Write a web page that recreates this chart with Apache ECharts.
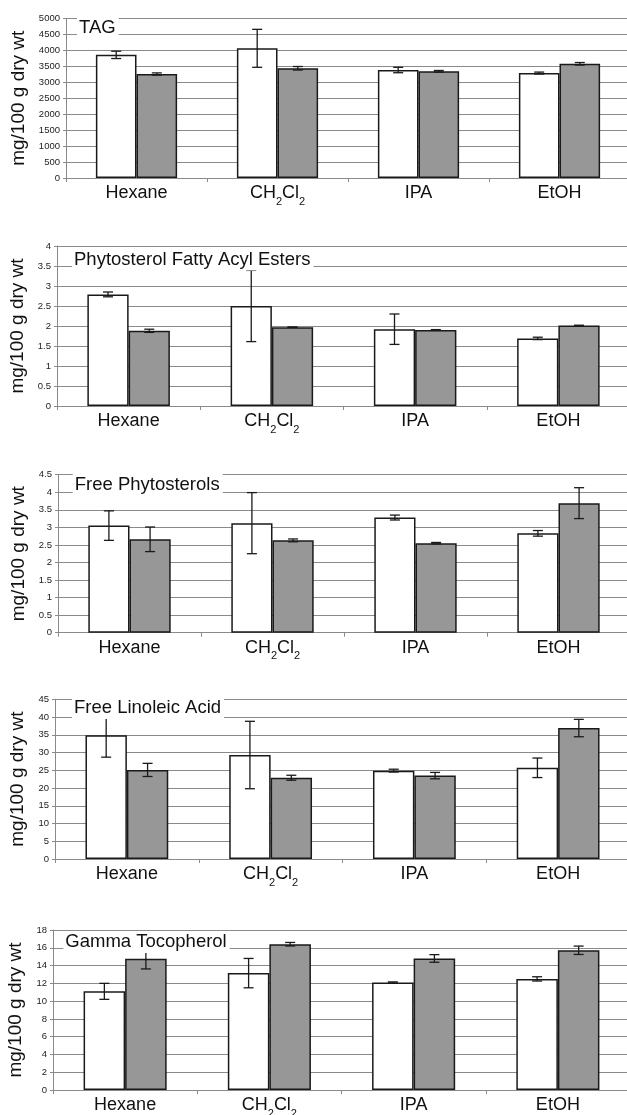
<!DOCTYPE html>
<html>
<head>
<meta charset="utf-8">
<script src="https://cdn.jsdelivr.net/npm/echarts@6/dist/echarts.min.js"></script>
<style>
html,body{margin:0;padding:0;background:#fff;}
#c{width:627px;height:1115px;}
</style>
</head>
<body>
<div id="c"></div>
<script>
// ---- data ----
const categories = ['Hexane', 'CH2Cl2', 'IPA', 'EtOH'];
const panelTitles = ['TAG', 'Phytosterol Fatty Acyl Esters', 'Free Phytosterols', 'Free Linoleic Acid', 'Gamma Tocopherol'];
const yAxisName = 'mg/100 g dry wt';
const yMax = [5000, 4, 4.5, 45, 18];
const yInterval = [500, 0.5, 0.5, 5, 2];

const tagWhite = [3860, 4065, 3385, 3290];
const tagWhiteErr = [115, 595, 85, 30];
const tagGray = [3260, 3440, 3345, 3580];
const tagGrayErr = [35, 55, 25, 40];

const pfaeWhite = [2.79, 2.5, 1.92, 1.69];
const pfaeWhiteErr = [0.06, 0.89, 0.38, 0.03];
const pfaeGray = [1.88, 1.97, 1.9, 2.01];
const pfaeGrayErr = [0.04, 0.005, 0.01, 0.01];

const fpWhite = [3.05, 3.12, 3.28, 2.83];
const fpWhiteErr = [0.42, 0.87, 0.07, 0.08];
const fpGray = [2.66, 2.63, 2.55, 3.69];
const fpGrayErr = [0.35, 0.04, 0.02, 0.44];

const flaWhite = [34.9, 29.3, 24.9, 25.7];
const flaWhiteErr = [6.2, 9.5, 0.4, 2.75];
const flaGray = [25.1, 22.9, 23.5, 36.9];
const flaGrayErr = [1.85, 0.7, 0.9, 2.45];

const gtWhite = [11.1, 13.15, 12.1, 12.5];
const gtWhiteErr = [0.9, 1.65, 0.06, 0.24];
const gtGray = [14.77, 16.4, 14.8, 15.72];
const gtGrayErr = [1.15, 0.2, 0.43, 0.47];

const whiteSets = [tagWhite, pfaeWhite, fpWhite, flaWhite, gtWhite];
const whiteErrs = [tagWhiteErr, pfaeWhiteErr, fpWhiteErr, flaWhiteErr, gtWhiteErr];
const graySets = [tagGray, pfaeGray, fpGray, flaGray, gtGray];
const grayErrs = [tagGrayErr, pfaeGrayErr, fpGrayErr, flaGrayErr, gtGrayErr];

// ---- layout ----
const gridBoxes = [
  {left: 66, top: 18.5, height: 159.5, width: 564},
  {left: 57, top: 246, height: 160, width: 573},
  {left: 58, top: 474.7, height: 158, width: 572},
  {left: 55, top: 699.3, height: 159.7, width: 575},
  {left: 53, top: 930, height: 160, width: 577}
];
const titlePos = [[77, 28], [72, 259.5], [72.7, 484.5], [72, 708], [63.3, 942]];
const nameGaps = [34.5, 25.5, 26.5, 23.5, 21.5];

const FONT = '"Liberation Sans", Arial, sans-serif';
const DARK = '#1a1a1a';
const GRID = '#8a8a8a';

function catLabel(v) {
  if (v === 'CH2Cl2') return '{a|CH}{s|2}{a|Cl}{s|2}';
  return '{a|' + v + '}';
}

function errRender(sign, bw) {
  return function (params, api) {
    const idx = api.value(0), lo = api.value(1), hi = api.value(2);
    const pLo = api.coord([idx, lo]);
    const pHi = api.coord([idx, hi]);
    const x = pLo[0] + sign * bw / 2;
    const cap = 5;
    const st = {stroke: DARK, lineWidth: 1.3};
    return {
      type: 'group',
      children: [
        {type: 'line', shape: {x1: x, y1: pHi[1], x2: x, y2: pLo[1]}, style: st},
        {type: 'line', shape: {x1: x - cap, y1: pHi[1], x2: x + cap, y2: pHi[1]}, style: st},
        {type: 'line', shape: {x1: x - cap, y1: pLo[1], x2: x + cap, y2: pLo[1]}, style: st}
      ]
    };
  };
}

const grid = [], xAxis = [], yAxis = [], series = [], graphic = [];

gridBoxes.forEach((g, i) => {
  grid.push({left: g.left, top: g.top, width: g.width, height: g.height,
    containLabel: false, outerBoundsMode: 'none'});
  xAxis.push({
    type: 'category', gridIndex: i, data: categories,
    axisLine: {show: true, lineStyle: {color: GRID, width: 1}},
    axisTick: {show: true, length: 4, lineStyle: {color: GRID}},
    axisLabel: {
      interval: 0, margin: 6, formatter: catLabel,
      rich: {
        a: {fontSize: 18, fontFamily: FONT, color: '#111', verticalAlign: 'top'},
        s: {fontSize: 11, fontFamily: FONT, color: '#111', verticalAlign: 'top', padding: [12, 0, 0, 0]}
      }
    }
  });
  yAxis.push({
    type: 'value', gridIndex: i, min: 0, max: yMax[i], interval: yInterval[i],
    name: yAxisName, nameLocation: 'middle', nameGap: nameGaps[i],
    nameTextStyle: {fontSize: 19, fontFamily: FONT, color: '#111'},
    axisLine: {show: true, lineStyle: {color: GRID, width: 1}},
    axisTick: {show: true, length: 3, lineStyle: {color: GRID}},
    axisLabel: {fontSize: 9.5, fontFamily: FONT, color: '#222', margin: 6,
      formatter: v => String(v)},
    splitLine: {show: true, lineStyle: {color: GRID, width: 1.2}}
  });
  const bw = g.width / 4 * 0.288;
  series.push({
    type: 'bar', xAxisIndex: i, yAxisIndex: i, data: whiteSets[i],
    barWidth: bw, barGap: '0%',
    itemStyle: {color: '#ffffff', borderColor: DARK, borderWidth: 1.5},
    silent: true
  });
  series.push({
    type: 'bar', xAxisIndex: i, yAxisIndex: i, data: graySets[i],
    barWidth: bw, barGap: '0%',
    itemStyle: {color: '#979797', borderColor: DARK, borderWidth: 1.5},
    silent: true
  });
  series.push({
    type: 'custom', xAxisIndex: i, yAxisIndex: i, z: 5,
    renderItem: errRender(-1, bw),
    encode: {x: 0, y: [1, 2]},
    data: whiteSets[i].map((v, k) => [k, v - whiteErrs[i][k], v + whiteErrs[i][k]])
  });
  series.push({
    type: 'custom', xAxisIndex: i, yAxisIndex: i, z: 5,
    renderItem: errRender(1, bw),
    encode: {x: 0, y: [1, 2]},
    data: graySets[i].map((v, k) => [k, v - grayErrs[i][k], v + grayErrs[i][k]])
  });
  graphic.push({
    type: 'text', x: titlePos[i][0], y: titlePos[i][1], z: 10,
    style: {
      text: panelTitles[i], fill: '#111', font: '18.5px ' + FONT,
      verticalAlign: 'middle', align: 'left',
      backgroundColor: '#ffffff', padding: [1, 3, 2, 2]
    }
  });
});

const chart = echarts.init(document.getElementById('c'), null, {renderer: 'canvas'});
chart.setOption({
  animation: false,
  backgroundColor: '#ffffff',
  grid, xAxis, yAxis, series, graphic
});
</script>
</body>
</html>
